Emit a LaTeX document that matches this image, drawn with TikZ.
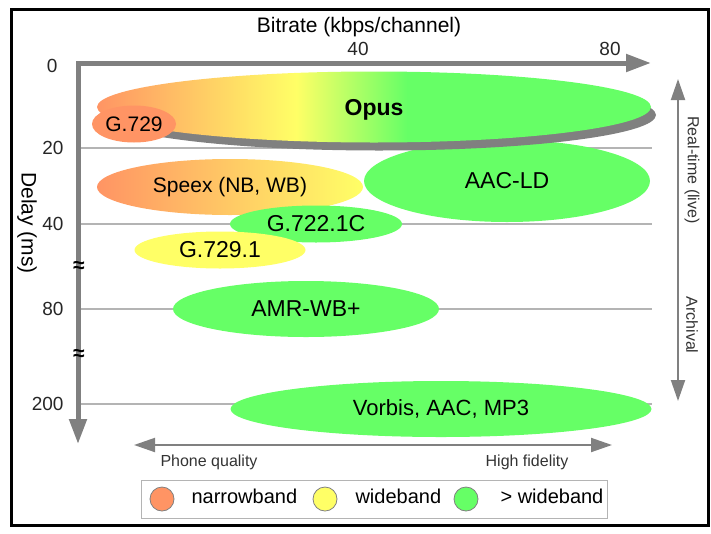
\documentclass[tikz,border=0pt]{standalone}
\usepackage{fontspec}
\setmainfont{Liberation Sans}
\usetikzlibrary{
  arrows.meta,      % Triangle 箭头
  shapes.geometric, % 椭圆节点
  shadows           % Opus 的灰色投影
}

% 频带颜色
\definecolor{nbcol}{RGB}{255,148,100}
\definecolor{wbcol}{RGB}{255,255,102}
\definecolor{swbcol}{RGB}{102,255,102}
\definecolor{axiscol}{RGB}{128,128,128}
\definecolor{gridcol}{RGB}{180,180,180}

% Opus 从窄带到全带的渐变
\pgfdeclarehorizontalshading{opusshade}{100bp}{color(0bp)=(nbcol); color(25bp)=(nbcol); color(43bp)=(wbcol); color(53bp)=(swbcol); color(100bp)=(swbcol)}

\newcommand{\fsz}[1]{\fontsize{#1}{#1}\selectfont}

\begin{document}
\begin{tikzpicture}[x=1pt, y=-1pt,
  codec/.style={ellipse, inner sep=0pt, font=\fsz{23}},
  ticklabel/.style={font=\fsz{19}, text=black!85},
  gridline/.style={gridcol, line width=1.5pt},
  axisline/.style={axiscol, line width=5pt,
    {Triangle[length=25pt, width=17pt]}-{Triangle[length=25pt, width=17pt]}},
  guide/.style={axiscol, line width=2pt,
    {Triangle[length=21pt, width=14pt]}-{Triangle[length=21pt, width=14pt]}},
  legenddot/.style={circle, draw=axiscol, line width=0.8pt, minimum size=24pt, inner sep=0pt}]

  \useasboundingbox (0,0) rectangle (711,533);

  % =============== 坐标轴与网格线 ===============
  \coordinate (origin) at (78,63);
  \coordinate (xtip) at (651,63);
  \coordinate (ytip) at (78,444);
  \coordinate (gridend) at (652,63);

  \node[font=\fsz{21}, anchor=base] (xtitle) at (359,32) {Bitrate (kbps/channel)};
  \node[ticklabel, anchor=base] (b40) at (358,55) {40};
  \node[ticklabel, anchor=base] (b80) at (610,55) {80};

  \node[ticklabel, anchor=base east] (d0) at (61,72) {0};
  \foreach \val/\ypos in {20/147, 40/223, 80/308, 200/403} {
    \node[ticklabel, anchor=east] (d\val) at (67,\ypos+1) {\val};
    \draw[gridline] (origin |- d\val) -- (gridend |- d\val);
  }

  \node[font=\fsz{21}, rotate=-90] (ytitle) at (27,223) {Delay (ms)};

  % =============== 各编码器椭圆 ===============
  \node[codec, fill=swbcol, minimum width=286pt, minimum height=82pt] (aacld) at (507,181) {AAC-LD};
  \node[codec, left color=nbcol, right color=wbcol, font=\fsz{21},
        minimum width=266pt, minimum height=56pt] (speex) at (230,187) {Speex (NB, WB)};
  \node[codec, fill=swbcol, minimum width=172pt, minimum height=37pt] (g7221c) at (316,224) {G.722.1C};
  \node[codec, fill=wbcol, minimum width=171pt, minimum height=37pt] (g7291) at (220,250) {G.729.1};
  \node[codec, fill=swbcol, minimum width=266pt, minimum height=56pt] (amrwb) at (306,309) {AMR-WB+};
  \node[codec, fill=swbcol, font=\fsz{22}, minimum width=421pt, minimum height=56pt] (vorbis) at (441,409) {Vorbis, AAC, MP3};

  \node[codec, shade, shading=opusshade, font=\fsz{23}\bfseries, text depth=0pt,
        drop shadow={shadow xshift=5pt, shadow yshift=-8pt, fill=axiscol, opacity=1},
        minimum width=554pt, minimum height=71pt] (opus) at (374,107) {Opus};
  \node[codec, fill=nbcol, font=\fsz{21}, minimum width=84pt, minimum height=37pt] (g729) at (134,124) {G.729};

  % 轴线画在最上层
  \draw[axisline] (ytip) |- (xtip);
  \node[font=\fsz{21}\bfseries] (brk1) at (79,267) {≈};
  \node[font=\fsz{21}\bfseries] (brk2) at (79,355) {≈};

  % =============== 右侧与底部的说明箭头 ===============
  \coordinate (rtop) at (678,79);
  \coordinate (rbot) at (678,401);
  \draw[guide] (rtop) -- (rbot);
  \node[font=\fsz{16}, rotate=-90, text=black!80] (live) at (692,170) {Real-time (live)};
  \node[font=\fsz{16}, rotate=-90, text=black!80] (archive) at (692,325) {Archival};

  \coordinate (qleft) at (134,445);
  \coordinate (qright) at (612,445);
  \draw[guide] (qleft) -- (qright);
  \node[font=\fsz{16}, anchor=base, text=black!80] (phone) at (209,466) {Phone quality};
  \node[font=\fsz{16}, anchor=base, text=black!80] (hifi) at (527,466) {High fidelity};

  % =============== 图例 ===============
  \node[draw=gridcol, line width=1pt, minimum width=466pt, minimum height=38pt, inner sep=0pt] (legend) at (374,499) {};
  \node[legenddot, fill=nbcol] (nbdot) at (162,499) {};
  \node[legenddot, fill=wbcol] (wbdot) at (325,499) {};
  \node[legenddot, fill=swbcol] (swbdot) at (466,499) {};
  \node[font=\fsz{20}, anchor=base west] (nbtext) at (188,503) {narrowband};
  \node[font=\fsz{20}, anchor=base west] (wbtext) at (352,503) {wideband};
  \node[font=\fsz{20}, anchor=base west] (swbtext) at (497,503) {> wideband};

  % 外框
  \draw[line width=3pt] (11,9.5) rectangle (708,525.5);

\end{tikzpicture}
\end{document}
